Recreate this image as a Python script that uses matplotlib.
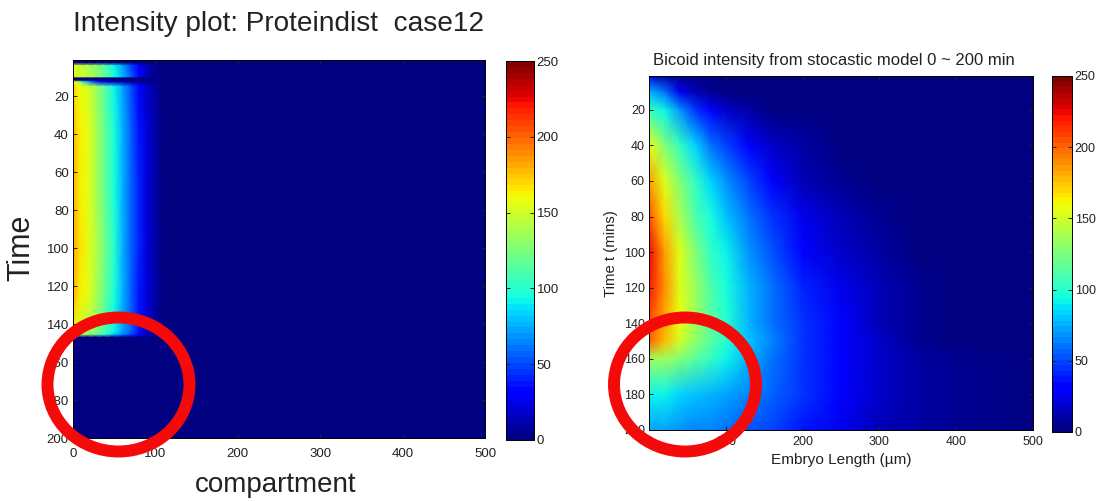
import numpy as np
import matplotlib
matplotlib.use("Agg")
import matplotlib.pyplot as plt
from matplotlib.patches import Ellipse

plt.rcParams["font.family"] = ["Liberation Sans", "DejaVu Sans"]

W, H = 1101, 501

# left panel: intensity
left_x = [0, 5, 10, 20, 30, 40, 50, 60, 70, 80, 90, 100, 110, 130, 150, 500]
left_t = [1, 2.5, 4, 10, 10.6, 11.8, 12.6, 15, 40, 70, 100, 125, 144, 145.6, 147, 200]
left_vals = [
    [0, 0, 0, 0, 0, 0, 0, 0, 0, 0, 0, 0, 0, 0, 0, 0],
    [0, 0, 0, 0, 0, 0, 0, 0, 0, 0, 0, 0, 0, 0, 0, 0],
    [158, 150, 148, 140, 128, 112, 90, 72, 50, 30, 14, 5, 1, 0, 0, 0],
    [160, 152, 150, 142, 130, 115, 95, 75, 55, 32, 15, 6, 1, 0, 0, 0],
    [2, 2, 1, 1, 1, 1, 1, 0, 0, 0, 0, 0, 0, 0, 0, 0],
    [4, 3, 2, 2, 2, 1, 1, 1, 1, 0, 0, 0, 0, 0, 0, 0],
    [160, 150, 120, 70, 40, 25, 15, 12, 10, 8, 4, 1, 0, 0, 0, 0],
    [172, 162, 158, 150, 132, 112, 92, 72, 52, 34, 18, 8, 2, 0, 0, 0],
    [178, 168, 162, 154, 135, 115, 95, 75, 56, 38, 20, 9, 3, 0, 0, 0],
    [180, 170, 164, 155, 136, 116, 96, 78, 58, 40, 22, 10, 3, 0, 0, 0],
    [182, 172, 165, 156, 138, 118, 98, 78, 58, 40, 22, 10, 3, 0, 0, 0],
    [180, 170, 164, 155, 136, 116, 96, 76, 56, 38, 20, 9, 3, 0, 0, 0],
    [160, 155, 148, 138, 125, 108, 90, 72, 55, 36, 18, 7, 2, 0, 0, 0],
    [148, 142, 135, 125, 112, 98, 80, 65, 50, 30, 14, 5, 1, 0, 0, 0],
    [0, 0, 0, 0, 0, 0, 0, 0, 0, 0, 0, 0, 0, 0, 0, 0],
    [0, 0, 0, 0, 0, 0, 0, 0, 0, 0, 0, 0, 0, 0, 0, 0],
]

# right panel
right_x = [0, 20, 40, 60, 80, 100, 130, 160, 200, 250, 300, 350, 400, 500]
right_t = [1, 10, 20, 40, 60, 80, 100, 120, 140, 150, 160, 180, 200]
right_vals = [
    [25, 10, 5, 2, 1, 0, 0, 0, 0, 0, 0, 0, 0, 0],
    [75, 60, 25, 12, 6, 3, 1, 0, 0, 0, 0, 0, 0, 0],
    [105, 90, 68, 45, 30, 18, 8, 3, 1, 0, 0, 0, 0, 0],
    [160, 128, 105, 85, 62, 48, 30, 18, 8, 3, 1, 0, 0, 0],
    [185, 155, 128, 102, 85, 70, 50, 30, 15, 6, 2, 1, 0, 0],
    [205, 170, 140, 112, 95, 80, 62, 43, 25, 12, 5, 2, 1, 0],
    [225, 185, 155, 125, 105, 90, 70, 52, 33, 18, 8, 3, 1, 0],
    [220, 190, 155, 135, 112, 95, 76, 60, 40, 24, 12, 5, 2, 0],
    [205, 180, 158, 135, 115, 98, 78, 62, 44, 28, 15, 7, 3, 1],
    [200, 178, 150, 132, 115, 98, 80, 63, 45, 30, 16, 7, 3, 1],
    [135, 135, 128, 115, 102, 90, 76, 62, 46, 30, 17, 8, 4, 1],
    [92, 90, 85, 82, 78, 72, 64, 55, 43, 28, 17, 9, 4, 1],
    [72, 72, 68, 66, 64, 60, 54, 47, 36, 25, 15, 8, 4, 1],
]

left_yticks = [20, 40, 60, 80, 100, 120, 140, 160, 180, 200]
right_yticks = [20, 40, 60, 80, 100, 120, 140, 160, 180, 200]
x_ticks = [0, 100, 200, 300, 400, 500]
cbar_ticks = [0, 50, 100, 150, 200, 250]

cmap = plt.get_cmap("jet", 64)
TICK_COL = "#222222"


def add_px_axes(fig, x0, y0, x1, y1):
    # pixel box, y measured from the top of the image
    return fig.add_axes([x0 / W, 1 - y1 / H, (x1 - x0) / W, (y1 - y0) / H])


def panel(fig, box, cbox, x, t, vals, yticks, fs, xpad):
    ax = add_px_axes(fig, *box)
    mesh = ax.pcolormesh(x, t, np.array(vals, dtype=float), shading="gouraud",
                         cmap=cmap, vmin=0, vmax=250, rasterized=True)
    ax.set_xlim(0, 500)
    ax.set_ylim(200, 1)
    ax.set_yticks(yticks)
    ax.set_xticks(x_ticks)
    ax.tick_params(direction="in", length=3, width=0.7, labelsize=fs,
                   colors=TICK_COL, top=True, right=True, pad=3)
    ax.tick_params(axis="x", pad=xpad)
    for s in ax.spines.values():
        s.set_linewidth(0.7)

    cax = add_px_axes(fig, *cbox)
    cb = fig.colorbar(mesh, cax=cax, ticks=cbar_ticks)
    cb.ax.tick_params(direction="in", length=3, width=0.7, labelsize=fs,
                      colors=TICK_COL, left=True, right=True, pad=2)
    cb.outline.set_linewidth(0.7)
    return ax


fig = plt.figure(figsize=(W / 100, H / 100), dpi=100)

panel(fig, (73, 60, 485, 438), (506, 61, 534, 440), left_x, left_t, left_vals,
      left_yticks, 9.5, 7)
panel(fig, (649, 76, 1033, 430), (1052, 76, 1072, 432), right_x, right_t, right_vals,
      right_yticks, 9, 4)

fig.text(73 / W, 1 - 24 / H, "Intensity plot: Proteindist  case12", fontsize=20.2,
         ha="left", va="center", color="#222222")
fig.text(21 / W, 1 - 248 / H, "Time", fontsize=22, rotation=90,
         ha="center", va="center", color="#222222")
fig.text(276 / W, 1 - 485 / H, "compartment", fontsize=20,
         ha="center", va="center", color="#222222")

fig.text(834 / W, 1 - 60 / H, "Bicoid intensity from stocastic model 0 ~ 200 min",
         fontsize=12, ha="center", va="center", color="#222222")
fig.text(611 / W, 1 - 254 / H, "Time t (mins)", fontsize=10.7, rotation=90,
         ha="center", va="center", color="#222222")
fig.text(841 / W, 1 - 460 / H, "Embryo Length (\u00b5m)", fontsize=11.1,
         ha="center", va="center", color="#222222")

# red rings drawn over everything, in image pixels
over = fig.add_axes([0, 0, 1, 1], zorder=10)
over.set_xlim(0, W)
over.set_ylim(H, 0)
over.axis("off")
for cx in (118.5, 685):
    over.add_patch(Ellipse((cx, 384.5), 142, 134, fill=False, ec="#f50a0a", lw=8.6))

fig.savefig("out.png", dpi=100)
